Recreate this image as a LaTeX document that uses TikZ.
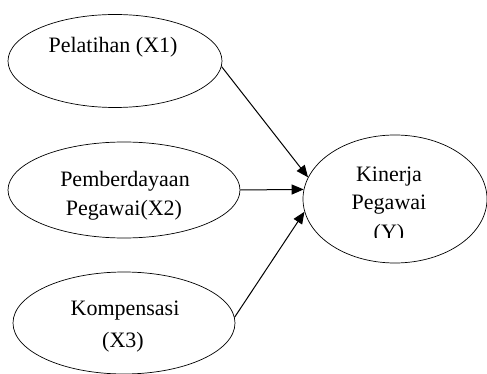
\documentclass[tikz,border=0pt]{standalone}
\usepackage{fontspec}
\setmainfont{Liberation Serif}
\usetikzlibrary{positioning,shapes.geometric,arrows.meta}

\tikzset{
  var/.style={draw, ellipse, line width=0.7pt, inner sep=0pt},
  lbl/.style={font=\fontsize{22}{28}\selectfont, anchor=base, inner sep=0pt},
  arr/.style={-{Triangle[length=12pt,width=10pt]}, line width=1pt}
}

\begin{document}
\begin{tikzpicture}[x=1pt,y=-1pt]
        \useasboundingbox (0,0) rectangle (487,374);

        \node[var, minimum width=214pt, minimum height=93pt] (x1) at (115, 61) {};
        \node[var, minimum width=232pt, minimum height=96pt] (x2) at (124, 190) {};
        \node[var, minimum width=222pt, minimum height=102pt] (x3) at (124, 323) {};
        \node[var, minimum width=184pt, minimum height=128pt] (y) at (395, 199) {};

        % Testi
        \node[lbl] (t1) at (113, 53) {Pelatihan (X1)};
        \node[lbl] (t2a) at (125, 187) {Pemberdayaan};
        \node[lbl] (t2b) at (124, 215) {Pegawai(X2)};
        \node[lbl] (t3a) at (125, 315) {Kompensasi};
        \node[lbl] (t3b) at (123, 347) {(X3)};
        \node[lbl] (t4a) at (389, 182) {Kinerja};
        \node[lbl] (t4b) at (389, 210) {Pegawai};
        \begin{scope}
          \clip (303, 100) rectangle (487, 237);
          \node[lbl] (t4c) at (389, 239) {(Y)};
        \end{scope}

        % Frecce verso y
        \draw[arr] (x1.-3) -- (y.166);
        \draw[arr] (x2.east) -- (y.174);
        \draw[arr] (x3.3) -- (y.188);
\end{tikzpicture}
\end{document}
